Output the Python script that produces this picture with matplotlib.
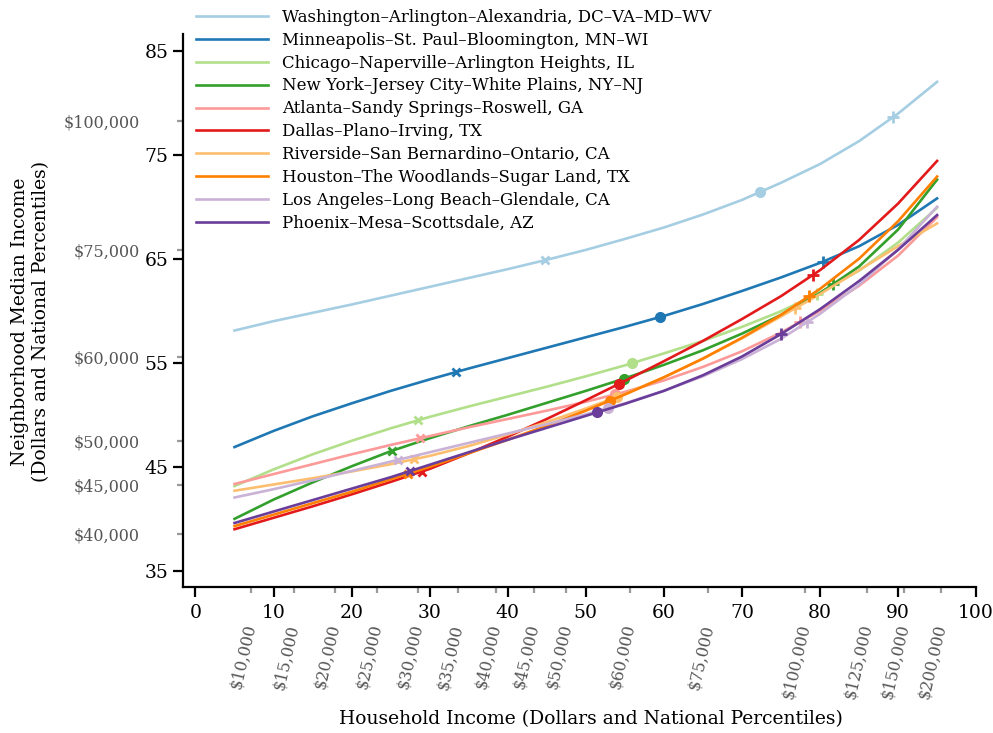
import numpy as np
import matplotlib.pyplot as plt

plt.rcParams['font.family'] = ['DejaVu Serif']

# national household income percentile (x) -> neighborhood median income percentile (y)
pct = [5, 10, 15, 20, 25, 30, 35, 40, 45, 50, 55, 60, 65, 70, 75, 80, 85, 90, 95]

washington = [58.1, 59.0, 59.8, 60.6, 61.45, 62.3, 63.15, 64.0, 64.9, 65.85, 66.9, 68.0, 69.25, 70.65, 72.3, 74.1, 76.3, 78.95, 82.0]
minneapolis = [46.9, 48.45, 49.85, 51.1, 52.3, 53.4, 54.45, 55.45, 56.45, 57.45, 58.45, 59.5, 60.65, 61.9, 63.2, 64.6, 66.2, 68.25, 70.8]
chicago = [43.15, 44.75, 46.2, 47.5, 48.7, 49.8, 50.8, 51.75, 52.7, 53.7, 54.75, 55.9, 57.1, 58.45, 59.95, 61.75, 63.85, 66.55, 69.9]
new_york = [40.0, 41.85, 43.5, 45.05, 46.5, 47.75, 48.9, 50.0, 51.15, 52.3, 53.5, 54.8, 56.2, 57.8, 59.6, 61.7, 64.25, 67.8, 72.6]
atlanta = [43.35, 44.3, 45.25, 46.2, 47.1, 47.95, 48.8, 49.6, 50.4, 51.25, 52.2, 53.3, 54.6, 56.1, 57.9, 60.0, 62.4, 65.3, 69.0]
dallas = [39.0, 40.1, 41.2, 42.35, 43.55, 44.8, 46.3, 47.9, 49.6, 51.4, 53.25, 55.15, 57.1, 59.2, 61.4, 63.9, 66.8, 70.3, 74.4]
riverside = [42.7, 43.3, 43.9, 44.55, 45.25, 46.05, 47.0, 48.1, 49.3, 50.6, 52.0, 53.6, 55.4, 57.35, 59.45, 61.6, 63.9, 66.2, 68.4]
houston = [39.3, 40.4, 41.5, 42.6, 43.8, 45.0, 46.3, 47.6, 48.95, 50.4, 51.95, 53.6, 55.4, 57.4, 59.6, 62.1, 65.0, 68.6, 72.9]
los_angeles = [42.05, 42.85, 43.7, 44.6, 45.5, 46.4, 47.3, 48.2, 49.1, 50.05, 51.1, 52.3, 53.7, 55.35, 57.3, 59.7, 62.5, 65.9, 70.0]
phoenix = [39.6, 40.7, 41.8, 42.9, 44.0, 45.2, 46.4, 47.6, 48.75, 49.9, 51.05, 52.3, 53.8, 55.6, 57.75, 60.15, 62.85, 65.85, 69.2]

metros = [
    "Washington–Arlington–Alexandria, DC–VA–MD–WV",
    "Minneapolis–St. Paul–Bloomington, MN–WI",
    "Chicago–Naperville–Arlington Heights, IL",
    "New York–Jersey City–White Plains, NY–NJ",
    "Atlanta–Sandy Springs–Roswell, GA",
    "Dallas–Plano–Irving, TX",
    "Riverside–San Bernardino–Ontario, CA",
    "Houston–The Woodlands–Sugar Land, TX",
    "Los Angeles–Long Beach–Glendale, CA",
    "Phoenix–Mesa–Scottsdale, AZ",
]
series = [washington, minneapolis, chicago, new_york, atlanta,
          dallas, riverside, houston, los_angeles, phoenix]

# metro household income quartiles, in national percentiles
q1 = [44.8, 33.4, 28.5, 25.2, 28.8, 29.0, 28.0, 27.2, 26.0, 27.5]
q2 = [72.3, 59.5, 55.9, 54.9, 53.8, 54.2, 54.0, 53.1, 52.9, 51.4]
q3 = [89.3, 80.4, 79.6, 81.7, 77.4, 79.1, 76.8, 78.6, 78.3, 75.0]

colors = plt.get_cmap('Paired').colors[:10]

# dollar equivalents of national percentiles
income_labels = ['$10,000', '$15,000', '$20,000', '$25,000', '$30,000', '$35,000',
                 '$40,000', '$45,000', '$50,000', '$60,000', '$75,000',
                 '$100,000', '$125,000', '$150,000', '$200,000']
income_pct = [7.1, 12.6, 17.85, 23.2, 28.45, 33.6, 38.5, 43.3, 47.5,
              55.6, 65.7, 78.1, 86.0, 90.7, 95.5]
y_income_labels = ['$40,000', '$45,000', '$50,000', '$60,000', '$75,000', '$100,000']
y_income_pct = [38.5, 43.3, 47.5, 55.6, 65.8, 78.2]

fig = plt.figure(figsize=(9.93, 7.33), dpi=100)
ax = fig.add_axes([0.1843, 0.1992, 0.7987, 0.7544])

for name, ys, c, a, b, d in zip(metros, series, colors, q1, q2, q3):
    ax.plot(pct, ys, color=c, lw=1.9, label=name)
    ax.plot(a, np.interp(a, pct, ys), marker='x', color=c, ms=6, mew=2)
    ax.plot(b, np.interp(b, pct, ys), marker='o', color=c, ms=7)
    ax.plot(d, np.interp(d, pct, ys), marker='+', color=c, ms=8, mew=2)

ax.set_xlim(-1.6, 100)
ax.set_ylim(33.45, 86.6)

for side in ['top', 'right']:
    ax.spines[side].set_visible(False)
for side in ['left', 'bottom']:
    ax.spines[side].set_linewidth(1.6)

ax.set_xticks(range(0, 101, 10))
ax.set_yticks(range(35, 86, 10))
ax.tick_params(which='major', length=7, width=1.6, labelsize=13.5, colors='black')
ax.tick_params(axis='x', which='major', pad=5.5)

ax.set_xticks(income_pct, minor=True)
ax.set_xticklabels(income_labels, minor=True, rotation=77, ha='right',
                   rotation_mode='anchor', va='center')
ax.set_yticks(y_income_pct, minor=True)
ax.set_yticklabels(y_income_labels, minor=True)
ax.tick_params(which='minor', length=4, width=1.6, color='#999999',
               labelcolor='#555555', labelsize=11.5)
ax.tick_params(axis='x', which='minor', pad=23)
ax.tick_params(axis='y', which='minor', pad=27)

ax.set_xlabel('Household Income (Dollars and National Percentiles)', fontsize=13.5)
ax.xaxis.set_label_coords(0.514, -0.222)
ax.set_ylabel('Neighborhood Median Income\n(Dollars and National Percentiles)',
              fontsize=13.5, linespacing=1.2)
ax.yaxis.set_label_coords(-0.168, 0.48)

fig.legend(loc='upper left', bbox_to_anchor=(196 / 993, 1 - 9 / 733),
           frameon=False, fontsize=12, handlelength=4.34, handletextpad=0.82,
           labelspacing=0.35, borderpad=0, borderaxespad=0)

plt.savefig('out.png', dpi=100)
